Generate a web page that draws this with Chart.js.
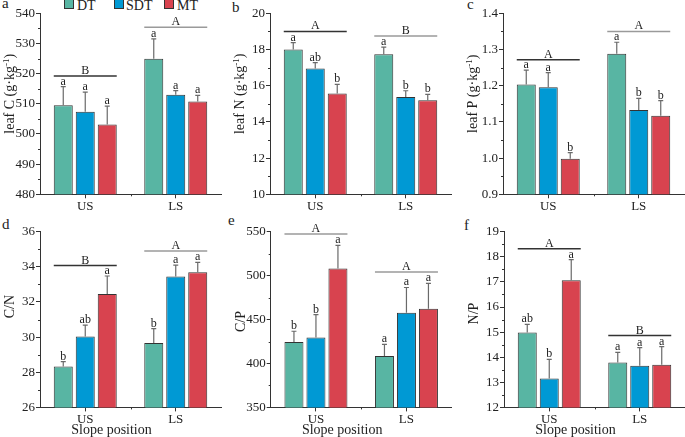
<!DOCTYPE html>
<html>
<head>
<meta charset="utf-8">
<script src="https://cdn.jsdelivr.net/npm/chart.js@4.4.0/dist/chart.umd.min.js"></script>
<style>
  body { margin: 0; background: #fff; width: 685px; height: 437px; position: relative; overflow: hidden;
         font-family: "Liberation Serif", serif; color: #222; }
  canvas { position: absolute; }
  .tag { position: absolute; font-size: 15px; line-height: 15px; }
  .key { position: absolute; top: -1px; width: 10px; height: 10px; box-sizing: border-box; border: 1px solid #333; }
  .keytxt { position: absolute; top: -1px; font-size: 14px; line-height: 14px; }
</style>
</head>
<body>
<div class="key" style="left:64px;background:#58b5a3"></div><div class="keytxt" style="left:77px">DT</div>
<div class="key" style="left:114px;background:#0099d4"></div><div class="keytxt" style="left:126px">SDT</div>
<div class="key" style="left:164px;background:#d8434f"></div><div class="keytxt" style="left:177px">MT</div>

<div class="tag" style="left:2px;top:-4px">a</div>
<div class="tag" style="left:232px;top:0px">b</div>
<div class="tag" style="left:467px;top:-3px">c</div>
<div class="tag" style="left:2px;top:217px">d</div>
<div class="tag" style="left:228px;top:213px">e</div>
<div class="tag" style="left:464px;top:218px">f</div>

<canvas id="pa"></canvas>
<canvas id="pb"></canvas>
<canvas id="pc"></canvas>
<canvas id="pd"></canvas>
<canvas id="pe"></canvas>
<canvas id="pf"></canvas>

<script>
// categorias y tratamientos
const slopePositions = ['US', 'LS'];
const treatments = ['DT', 'SDT', 'MT'];

// cada fila: DT, SDT, MT ; cada columna: US, LS
const leafCMean = [[509.5, 524.9], [507.4, 513.0], [503.1, 510.8]];
const leafCErr = [[6.2, 6.6], [6.5, 1.4], [6.1, 2.0]];
const leafCSig = [['a', 'a'], ['a', 'a'], ['a', 'a']];
const leafCGroup = ['B', 'A'];
const leafCGroupAt = [519.2, 535.4];
const leafCAxis = [480, 540, 10];

const leafNMean = [[18.0, 17.74], [16.95, 15.37], [15.57, 15.2]];
const leafNErr = [[0.38, 0.39], [0.33, 0.35], [0.5, 0.32]];
const leafNSig = [['a', 'a'], ['ab', 'b'], ['b', 'b']];
const leafNGroup = ['A', 'B'];
const leafNGroupAt = [19.0, 18.75];
const leafNAxis = [10, 20, 2];

const leafPMean = [[1.203, 1.288], [1.196, 1.133], [0.998, 1.117]];
const leafPErr = [[0.04, 0.032], [0.04, 0.032], [0.017, 0.042]];
const leafPSig = [['a', 'a'], ['a', 'b'], ['b', 'b']];
const leafPGroup = ['A', 'A'];
const leafPGroupAt = [1.272, 1.35];
const leafPAxis = [0.9, 1.4, 0.1];

const cnMean = [[28.33, 29.66], [30.04, 33.45], [32.46, 33.69]];
const cnErr = [[0.28, 0.82], [0.64, 0.65], [1.02, 0.56]];
const cnSig = [['b', 'b'], ['ab', 'a'], ['a', 'a']];
const cnGroup = ['B', 'A'];
const cnGroupAt = [34.07, 34.9];
const cnAxis = [26, 36, 2];

const cpMean = [[424.5, 408.5], [429.5, 457.6], [508.2, 462.2]];
const cpErr = [[12.2, 13.3], [26.2, 28.9], [26.2, 28.9]];
const cpSig = [['b', 'a'], ['b', 'a'], ['a', 'a']];
const cpGroup = ['A', 'A'];
const cpGroupAt = [547.3, 504];
const cpAxis = [350, 550, 50];

const npMean = [[14.98, 13.79], [13.15, 13.66], [17.07, 13.7]];
const npErr = [[0.33, 0.4], [0.76, 0.72], [0.82, 0.72]];
const npSig = [['ab', 'a'], ['b', 'a'], ['a', 'a']];
const npGroup = ['A', 'B'];
const npGroupAt = [18.32, 14.86];
const npAxis = [12, 19, 1];

const COLORS = ['#58b5a3', '#0099d4', '#d8434f'];
const FONT = "'Liberation Serif', serif";
const DARK = '#333';
const LIGHT = '#9a9a9a';

// barras de error, letras y líneas de grupo
function extras(p, box) {
  return {
    id: 'extras',
    afterDatasetsDraw(chart) {
      const ctx = chart.ctx, y = chart.scales.y;
      ctx.save();
      ctx.font = '12px ' + FONT;
      ctx.textAlign = 'center';
      ctx.textBaseline = 'alphabetic';
      p.mean.forEach((row, i) => {
        chart.getDatasetMeta(i).data.forEach((bar, j) => {
          const top = y.getPixelForValue(row[j] + p.err[i][j]);
          ctx.strokeStyle = '#6a6a6a';
          ctx.lineWidth = 1.2;
          ctx.beginPath();
          ctx.moveTo(bar.x, bar.y);
          ctx.lineTo(bar.x, top);
          ctx.moveTo(bar.x - 2.5, top);
          ctx.lineTo(bar.x + 2.5, top);
          ctx.stroke();
          ctx.fillStyle = '#222';
          ctx.fillText(p.sig[i][j], bar.x, top - 2);
        });
      });
      const first = chart.getDatasetMeta(0).data;
      const last = chart.getDatasetMeta(p.mean.length - 1).data;
      p.group.forEach((g, j) => {
        const x0 = first[j].x - first[j].width / 2;
        const x1 = last[j].x + last[j].width / 2;
        const gy = y.getPixelForValue(p.groupAt[j]);
        ctx.strokeStyle = p.groupColor[j];
        ctx.lineWidth = 1.5;
        ctx.beginPath();
        ctx.moveTo(x0, gy);
        ctx.lineTo(x1, gy);
        ctx.stroke();
        ctx.fillStyle = '#222';
        ctx.fillText(g, (x0 + x1) / 2, gy - 2);
      });
      ctx.restore();
    },
    afterDraw(chart) {
      const ctx = chart.ctx, a = chart.chartArea, y = chart.scales.y, x = chart.scales.x;
      ctx.save();
      // ticks menores
      ctx.strokeStyle = DARK;
      ctx.lineWidth = 1;
      ctx.beginPath();
      for (let v = p.axis[0] + p.axis[2] / 2; v < p.axis[1]; v += p.axis[2]) {
        const py = Math.round(y.getPixelForValue(v)) + 0.5;
        ctx.moveTo(a.left - 2, py);
        ctx.lineTo(a.left, py);
      }
      const mx = Math.round((x.getPixelForValue(0) + x.getPixelForValue(1)) / 2) + 0.5;
      ctx.moveTo(mx, a.bottom);
      ctx.lineTo(mx, a.bottom + 2);
      ctx.stroke();
      ctx.fillStyle = '#222';
      // título del eje x (algo a la izquierda del centro, como en el original)
      if (box.xTitle) {
        ctx.font = '14px ' + FONT;
        ctx.textAlign = 'center';
        ctx.textBaseline = 'alphabetic';
        ctx.fillText('Slope position', (a.left + a.right) / 2 - 19, box.h - 3);
      }
      // título del eje y
      const [main, sup, tail] = p.title;
      ctx.translate(a.left - 26, (a.top + a.bottom) / 2 + p.shift);
      ctx.rotate(-Math.PI / 2);
      ctx.textBaseline = 'alphabetic';
      ctx.textAlign = 'left';
      ctx.font = '14px ' + FONT;
      const wm = ctx.measureText(main).width, wt = ctx.measureText(tail).width;
      ctx.font = '9px ' + FONT;
      const ws = ctx.measureText(sup).width;
      let sx = -(wm + ws + wt) / 2;
      ctx.font = '14px ' + FONT;
      ctx.fillText(main, sx, 0);
      ctx.font = '9px ' + FONT;
      ctx.fillText(sup, sx + wm, -5);
      ctx.font = '14px ' + FONT;
      ctx.fillText(tail, sx + wm + ws, 0);
      ctx.restore();
    }
  };
}

function panel(id, box, p) {
  const cv = document.getElementById(id);
  cv.width = box.w;
  cv.height = box.h;
  cv.style.left = box.left + 'px';
  cv.style.top = box.top + 'px';

  new Chart(cv.getContext('2d'), {
    type: 'bar',
    data: {
      labels: slopePositions,
      datasets: treatments.map((t, i) => ({
        label: t,
        data: p.mean[i],
        backgroundColor: COLORS[i],
        borderColor: DARK,
        borderWidth: 1,
        categoryPercentage: 0.729,
        barPercentage: 0.864
      }))
    },
    options: {
      responsive: false,
      animation: false,
      layout: { padding: box.pad },
      plugins: { legend: { display: false }, tooltip: { enabled: false } },
      scales: {
        x: {
          type: 'category',
          offset: true,
          afterFit: s => { s.height = box.xh; },
          grid: { offset: false, drawOnChartArea: false, tickLength: 4, color: DARK },
          border: { color: DARK, width: 1 },
          ticks: { font: { family: FONT, size: 13 }, color: '#222', padding: 0 }
        },
        y: {
          min: p.axis[0],
          max: p.axis[1],
          afterFit: s => { s.width = 40; },
          grid: { drawOnChartArea: false, tickLength: 4, color: DARK },
          border: { color: DARK, width: 1 },
          ticks: {
            stepSize: p.axis[2],
            font: { family: FONT, size: 13 },
            color: '#222',
            padding: 1,
            callback: v => p.dec ? Number(v).toFixed(p.dec) : v
          }
        }
      }
    },
    plugins: [extras(p, box)]
  });
}

const row1 = { top: 0, h: 218, xh: 23.7, xTitle: false };
const row2 = { top: 218, h: 219, xh: 29.6, xTitle: true };

panel('pa', { ...row1, left: 0, w: 228, pad: { left: 0, right: 7, top: 13.3, bottom: 0 } },
  { mean: leafCMean, err: leafCErr, sig: leafCSig, group: leafCGroup, groupAt: leafCGroupAt, axis: leafCAxis,
    groupColor: [DARK, LIGHT], title: ['leaf C (g·kg', '-1', ')'], shift: -10 });
panel('pb', { ...row1, left: 228, w: 230, pad: { left: 2, right: 7, top: 13.3, bottom: 0 } },
  { mean: leafNMean, err: leafNErr, sig: leafNSig, group: leafNGroup, groupAt: leafNGroupAt, axis: leafNAxis,
    groupColor: [DARK, LIGHT], title: ['leaf N (g·kg', '-1', ')'], shift: -10 });
panel('pc', { ...row1, left: 458, w: 227, pad: { left: 5, right: 1, top: 13.3, bottom: 0 } },
  { mean: leafPMean, err: leafPErr, sig: leafPSig, group: leafPGroup, groupAt: leafPGroupAt, axis: leafPAxis,
    groupColor: [DARK, LIGHT], title: ['leaf P (g·kg', '-1', ')'], shift: -10, dec: 1 });
panel('pd', { ...row2, left: 0, w: 228, pad: { left: 0, right: 7, top: 13.7, bottom: 0 } },
  { mean: cnMean, err: cnErr, sig: cnSig, group: cnGroup, groupAt: cnGroupAt, axis: cnAxis,
    groupColor: [DARK, LIGHT], title: ['C/N', '', ''], shift: -13 });
panel('pe', { ...row2, left: 228, w: 230, pad: { left: 2.7, right: 6.3, top: 13.7, bottom: 0 } },
  { mean: cpMean, err: cpErr, sig: cpSig, group: cpGroup, groupAt: cpGroupAt, axis: cpAxis,
    groupColor: [LIGHT, LIGHT], title: ['C/P', '', ''], shift: 2 });
panel('pf', { ...row2, left: 458, w: 227, pad: { left: 6, right: 0, top: 13.7, bottom: 0 } },
  { mean: npMean, err: npErr, sig: npSig, group: npGroup, groupAt: npGroupAt, axis: npAxis,
    groupColor: [DARK, DARK], title: ['N/P', '', ''], shift: -6 });
</script>
</body>
</html>
